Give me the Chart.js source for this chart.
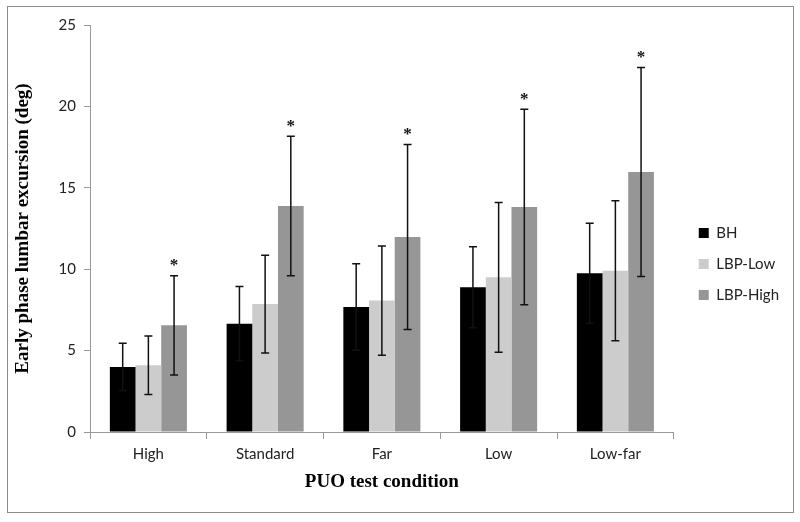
<!DOCTYPE html>
<html>
<head>
<meta charset="utf-8">
<script src="https://cdn.jsdelivr.net/npm/chart.js@4"></script>
<style>
  html, body { margin: 0; padding: 0; background: #fff; }
  #wrap { width: 800px; height: 522px; }
</style>
</head>
<body>
<div id="wrap"><canvas id="chart" width="800" height="522"></canvas></div>
<script>
const categories = ["High", "Standard", "Far", "Low", "Low-far"];
const seriesNames = ["BH", "LBP-Low", "LBP-High"];

const bhMean = [4.0, 6.65, 7.68, 8.89, 9.75];
const bhSd = [1.45, 2.28, 2.66, 2.49, 3.07];
const lowMean = [4.1, 7.86, 8.07, 9.5, 9.91];
const lowSd = [1.8, 3.0, 3.35, 4.6, 4.3];
const highMean = [6.55, 13.88, 11.98, 13.82, 15.97];
const highSd = [3.05, 4.29, 5.68, 6.0, 6.42];
const highSignificant = [true, true, true, true, true];

const yTicks = [0, 5, 10, 15, 20, 25];

const sds = [bhSd, lowSd, highSd];
const stars = [null, null, highSignificant];

const errorBars = {
  id: "errorBars",
  afterDatasetsDraw(chart) {
    const ctx = chart.ctx;
    const y = chart.scales.y;
    ctx.save();
    chart.data.datasets.forEach((ds, i) => {
      const meta = chart.getDatasetMeta(i);
      meta.data.forEach((bar, j) => {
        const m = ds.data[j];
        const sd = sds[i][j];
        const top = y.getPixelForValue(m + sd);
        const bot = y.getPixelForValue(m - sd);
        ctx.strokeStyle = "#111";
        ctx.lineWidth = 1.5;
        ctx.beginPath();
        ctx.moveTo(bar.x, top);
        ctx.lineTo(bar.x, bot);
        ctx.moveTo(bar.x - 4, top);
        ctx.lineTo(bar.x + 4, top);
        ctx.moveTo(bar.x - 4, bot);
        ctx.lineTo(bar.x + 4, bot);
        ctx.stroke();
        if (stars[i] && stars[i][j]) {
          ctx.fillStyle = "#111";
          ctx.font = "bold 17px 'Liberation Serif'";
          ctx.textAlign = "center";
          ctx.textBaseline = "middle";
          ctx.fillText("*", bar.x, top - 10);
        }
      });
    });
    ctx.restore();
  }
};

const frame = {
  id: "frame",
  beforeDraw(chart) {
    const ctx = chart.ctx;
    ctx.save();
    ctx.fillStyle = "#fff";
    ctx.fillRect(0, 0, chart.width, chart.height);
    ctx.strokeStyle = "#8c8c8c";
    ctx.lineWidth = 1;
    ctx.strokeRect(7.5, 6.5, 786, 506);
    ctx.restore();
  }
};

// nudge the legend to where the original sits
const legendShift = {
  id: "legendShift",
  afterLayout(chart) {
    const lg = chart.legend;
    lg.left += 9; lg.right += 9;
    lg.top += 5; lg.bottom += 5;
  }
};

new Chart(document.getElementById("chart"), {
  type: "bar",
  data: {
    labels: categories,
    datasets: [
      { label: seriesNames[0], data: bhMean, backgroundColor: "#000000" },
      { label: seriesNames[1], data: lowMean, backgroundColor: "#cccccc" },
      { label: seriesNames[2], data: highMean, backgroundColor: "#969696" }
    ]
  },
  options: {
    responsive: false,
    animation: false,
    devicePixelRatio: 1,
    layout: { padding: { left: 8, top: 25, right: 20, bottom: 29 } },
    datasets: { bar: { categoryPercentage: 0.66, barPercentage: 1.0 } },
    plugins: {
      tooltip: { enabled: false },
      legend: {
        position: "right",
        labels: {
          boxWidth: 10,
          boxHeight: 10,
          padding: 16,
          color: "#222",
          font: { family: "Lato", size: 15 }
        }
      }
    },
    scales: {
      x: {
        grid: { display: true, offset: true, drawOnChartArea: false, drawTicks: true, tickLength: 7, color: "#999" },
        border: { color: "#999" },
        ticks: { color: "#222", font: { family: "Lato", size: 15 }, padding: 6 },
        title: {
          display: true,
          text: "PUO test condition",
          color: "#000",
          font: { family: "Liberation Serif", size: 19, weight: "bold" },
          padding: { top: 4, bottom: 0 }
        },
        afterFit(scale) { scale.height = 61; }
      },
      y: {
        min: 0,
        max: 25,
        afterBuildTicks(scale) { scale.ticks = yTicks.map(v => ({ value: v })); },
        grid: { display: true, drawOnChartArea: false, drawTicks: true, tickLength: 6, color: "#999" },
        border: { color: "#999" },
        ticks: { color: "#222", font: { family: "Lato", size: 15 }, padding: 8 },
        title: {
          display: true,
          text: "Early phase lumbar excursion (deg)",
          color: "#000",
          font: { family: "Liberation Serif", size: 19, weight: "bold" },
          padding: { top: 4, bottom: 4 }
        },
        afterFit(scale) { scale.width = 82; }
      }
    }
  },
  plugins: [frame, legendShift, errorBars]
});
</script>
</body>
</html>
